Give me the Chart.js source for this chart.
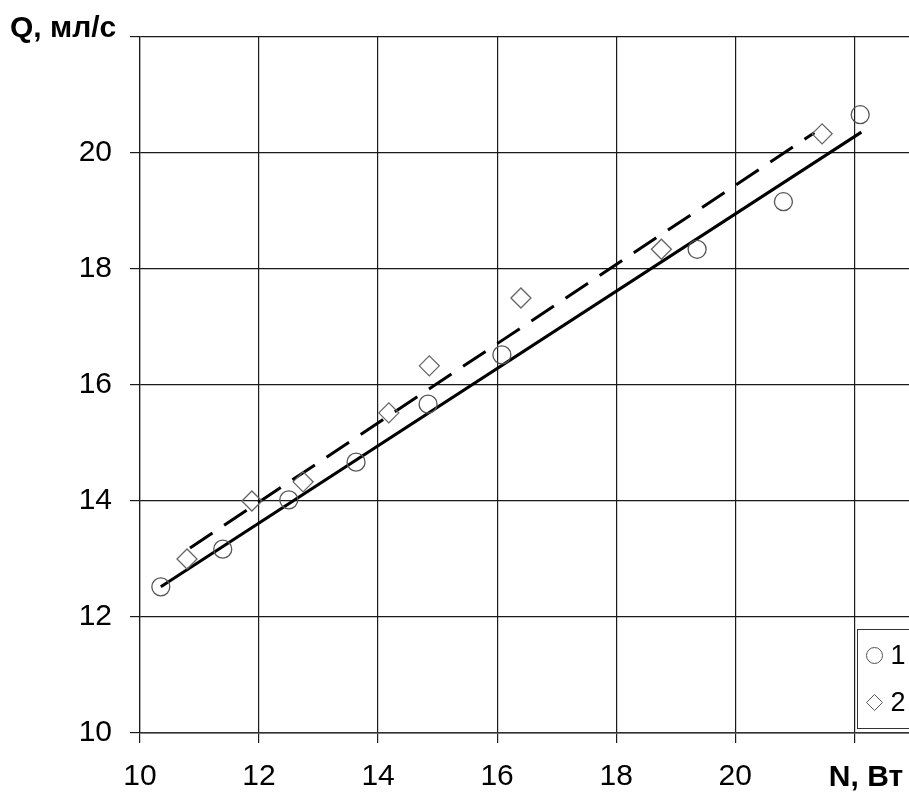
<!DOCTYPE html>
<html>
<head>
<meta charset="utf-8">
<script src="https://cdn.jsdelivr.net/npm/chart.js@4"></script>
<style>
  html, body { margin: 0; padding: 0; background: #fff; }
  canvas { display: block; }
</style>
</head>
<body>
<canvas id="chart" width="909" height="795"></canvas>
<script>
// series 1 (circles) and series 2 (diamonds)
const n1 = [10.35, 11.39, 12.50, 13.63, 14.84, 16.08, 19.36, 20.81, 22.10]
const q1 = [12.52, 13.17, 14.02, 14.67, 15.67, 16.52, 18.34, 19.16, 20.66]
const n2 = [10.79, 11.88, 12.74, 14.18, 14.86, 16.40, 18.76, 21.46]
const q2 = [13.00, 14.00, 14.33, 15.52, 16.33, 17.50, 18.34, 20.33]

// fitted lines (end points)
const fit1N = [10.35, 22.12]
const fit1Q = [12.52, 20.36]
const fit2N = [10.84, 21.33]
const fit2Q = [13.19, 20.35]

const xTicks = [10, 12, 14, 16, 18, 20, 22]
const yTicks = [10, 12, 14, 16, 18, 20, 22]
const seriesNames = ['1', '2']
const xTitle = 'N, Вт'
const yTitle = 'Q, мл/с'

const FONT = '"Liberation Sans", Arial, sans-serif'
Chart.defaults.font.family = FONT
Chart.defaults.color = '#000'

const toPts = (xs, ys) => xs.map((x, i) => ({ x: x, y: ys[i] }))

// axis titles and the boxed legend
const extras = {
    id: 'extras',
    afterDraw(chart) {
        const ctx = chart.ctx
        const area = chart.chartArea
        ctx.save()
        ctx.fillStyle = '#000'
        ctx.font = 'bold 30px ' + FONT
        ctx.textAlign = 'left'
        ctx.textBaseline = 'alphabetic'
        ctx.fillText(yTitle, 10, 37)
        ctx.textAlign = 'center'
        ctx.textBaseline = 'middle'
        ctx.fillText(xTitle, 866, 778)

        // legend box in the lower right corner
        const bx = area.right - 51.5, by = area.bottom - 103.5
        ctx.fillStyle = '#fff'
        ctx.fillRect(bx, by, 60, 99)
        ctx.strokeStyle = '#333'
        ctx.lineWidth = 1
        ctx.strokeRect(bx, by, 60, 99)
        const styles = ['circle', 'rectRot']
        seriesNames.forEach((name, i) => {
            const cy = by + 26 + i * 47
            ctx.strokeStyle = '#555'
            ctx.fillStyle = 'rgba(0,0,0,0)'
            Chart.helpers.drawPoint(ctx, { pointStyle: styles[i], radius: 8, borderWidth: 1.2 }, bx + 17, cy)
            ctx.fillStyle = '#000'
            ctx.font = '27px ' + FONT
            ctx.textAlign = 'left'
            ctx.textBaseline = 'middle'
            ctx.fillText(name, bx + 33, cy + 1)
        })
        ctx.restore()
    }
}

new Chart(document.getElementById('chart'), {
    type: 'scatter',
    data: {
        datasets: [
            {
                label: seriesNames[0],
                data: toPts(n1, q1),
                pointStyle: 'circle',
                pointRadius: 9,
                pointBorderWidth: 1.3,
                borderColor: '#555',
                backgroundColor: 'rgba(0,0,0,0)'
            },
            {
                label: seriesNames[1],
                data: toPts(n2, q2),
                pointStyle: 'rectRot',
                pointRadius: 10,
                pointBorderWidth: 1.3,
                borderColor: '#666',
                backgroundColor: 'rgba(0,0,0,0)'
            },
            {
                label: 'fit 1',
                data: toPts(fit1N, fit1Q),
                showLine: true,
                borderColor: '#000',
                borderWidth: 3,
                pointRadius: 0
            },
            {
                label: 'fit 2',
                data: toPts(fit2N, fit2Q),
                showLine: true,
                borderColor: '#000',
                borderWidth: 3,
                borderDash: [27, 14],
                pointRadius: 0
            }
        ]
    },
    options: {
        responsive: false,
        animation: false,
        devicePixelRatio: 1,
        layout: { autoPadding: false, padding: { top: 37, right: 0, left: 0, bottom: 0 } },
        plugins: {
            legend: { display: false },
            tooltip: { enabled: false }
        },
        scales: {
            x: {
                type: 'linear',
                min: 10,
                max: 22.92,
                afterBuildTicks: s => { s.ticks = xTicks.map(v => ({ value: v })) },
                afterFit: s => {
                    s.height = 62
                    s.paddingLeft = 0
                    s.paddingRight = 0
                },
                ticks: {
                    callback: v => (v === 22 ? '' : v),
                    font: { size: 30 },
                    color: '#000',
                    padding: 16,
                    maxRotation: 0,
                    autoSkip: false
                },
                grid: { color: '#1a1a1a', lineWidth: 1.2, tickLength: 10 },
                border: { color: '#333', width: 1.5 }
            },
            y: {
                type: 'linear',
                min: 10,
                max: 22,
                afterBuildTicks: s => { s.ticks = yTicks.map(v => ({ value: v })) },
                afterFit: s => {
                    s.width = 140
                    s.paddingTop = 0
                    s.paddingBottom = 0
                },
                ticks: {
                    callback: v => (v === 22 ? '' : v),
                    font: { size: 30 },
                    color: '#000',
                    padding: 18,
                    autoSkip: false
                },
                grid: { color: '#1a1a1a', lineWidth: 1.2, tickLength: 10 },
                border: { color: '#1a1a1a', width: 1.2 }
            }
        }
    },
    plugins: [extras]
})
</script>
</body>
</html>
